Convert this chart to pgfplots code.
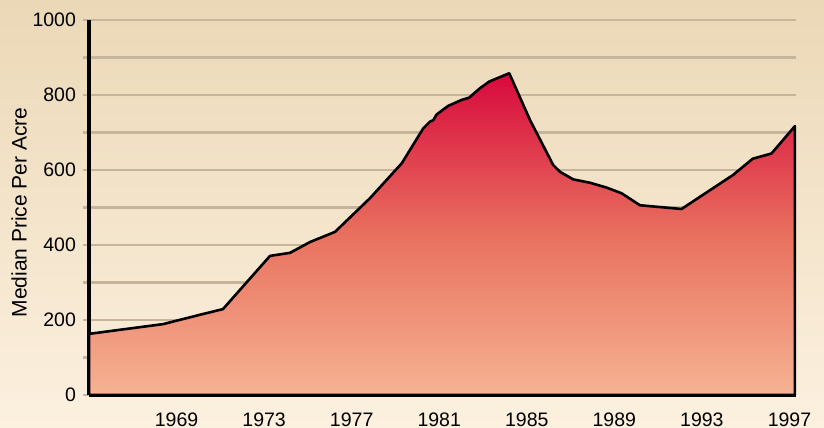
\documentclass[border=0pt]{standalone}
\usepackage{fontspec}
\setmainfont{Liberation Sans}
\usepackage{pgfplots}
\pgfplotsset{compat=1.18}
\definecolor{bgtop}{HTML}{EBD8B7}
\definecolor{bgbot}{HTML}{FCF0DF}
\definecolor{areatop}{HTML}{D8093D}
\definecolor{areamid}{HTML}{E8705E}
\definecolor{areabot}{HTML}{F6B393}
\definecolor{gridc}{HTML}{C6B59B}
\pgfplotsset{layers/mine/.define layer set={axis background,axis grid,main,axis ticks,axis lines,axis tick labels,axis descriptions,axis foreground}{}}
\begin{document}
\begin{tikzpicture}
\path[top color=bgtop, bottom color=bgbot] (0,0) rectangle (412pt,214pt);
\begin{axis}[
  set layers=mine,
  scale only axis, width=353.5pt, height=187.5pt,
  at={(44.5pt,16.5pt)}, anchor=south west,
  xmin=1965, xmax=1997.3, ymin=0, ymax=1000,
  axis x line=bottom, axis y line=left,
  x axis line style={-, line width=1.6pt, black},
  y axis line style={-, line width=1.8pt, black},
  xtick={1969,1973,...,1997}, xtick style={draw=none},
  ytick={0,200,...,1000}, minor ytick={100,300,...,900},
  tick align=outside, major tick length=3pt, minor tick length=3pt,
  ytick style={draw=gridc, line width=1.1pt},
  minor tick style={draw=gridc, line width=1.1pt},
  ymajorgrids, yminorgrids, xmajorgrids=false,
  major grid style={gridc, line width=1.1pt},
  minor grid style={gridc, line width=1.1pt},
  tick label style={font=\fontsize{9.75}{11}\selectfont},
  /pgf/number format/assume math mode=true,
  /pgf/number format/1000 sep={},
  xticklabel style={yshift=-2.3pt},
  ylabel={Median Price Per Acre},
  ylabel style={font=\fontsize{10.5}{12}\selectfont, at={(axis description cs:-0.099,0.487)}, anchor=center},
]
\addplot[draw=black, line width=1.3pt, line join=round, top color=areatop, bottom color=areabot, middle color=areamid] coordinates {
(1965.00,163) (1968.38,189) (1970.21,216) (1971.12,229) (1973.27,371)
(1974.18,379) (1975.10,408) (1976.24,435) (1977.84,525) (1979.29,618)
(1980.27,711) (1980.58,729) (1980.73,733) (1980.88,748) (1981.41,771)
(1982.03,787) (1982.37,793) (1982.86,818) (1983.29,836) (1984.20,858)
(1985.15,733) (1986.21,613) (1986.52,595) (1987.12,575) (1987.89,566)
(1988.65,553) (1989.33,538) (1990.17,506) (1992.07,496) (1994.43,587)
(1995.32,630) (1996.18,644) (1997.25,717)
} \closedcycle;
\end{axis}
\pgfresetboundingbox
\path[use as bounding box] (0,0) rectangle (412pt,214pt);
\end{tikzpicture}
\end{document}
